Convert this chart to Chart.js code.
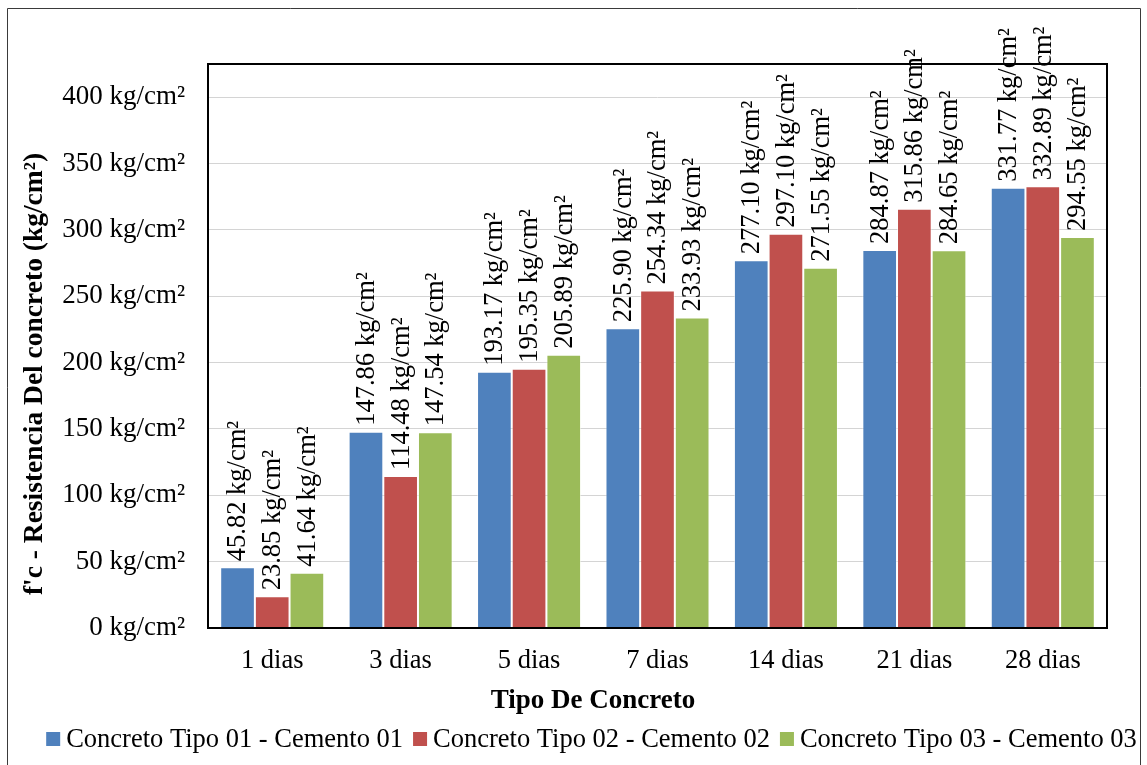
<!DOCTYPE html>
<html>
<head>
<meta charset="utf-8">
<title>Resistencia del concreto</title>
<script src="https://cdn.jsdelivr.net/npm/chart.js@4.4.1/dist/chart.umd.min.js"></script>
<style>
  html, body { margin: 0; padding: 0; background: #ffffff; }
  #wrap { position: relative; width: 1147px; height: 765px; }
  canvas { display: block; }
</style>
</head>
<body>
<div id="wrap"><canvas id="chart" width="1147" height="765"></canvas></div>
<script>
// Curing ages (categories)
const categories = ['1 dias', '3 dias', '5 dias', '7 dias', '14 dias', '21 dias', '28 dias'];

// Compressive strength f'c in kg/cm² for each concrete type
const tipo01 = [45.82, 147.86, 193.17, 225.90, 277.10, 284.87, 331.77];
const tipo02 = [23.85, 114.48, 195.35, 254.34, 297.10, 315.86, 332.89];
const tipo03 = [41.64, 147.54, 205.89, 233.93, 271.55, 284.65, 294.55];

const seriesNames = [
  'Concreto Tipo 01 - Cemento 01',
  'Concreto Tipo 02 - Cemento 02',
  'Concreto Tipo 03 - Cemento 03'
];
const seriesColors = ['#4F81BD', '#C0504D', '#9BBB59'];

// Y-axis settings
const yMin = 0;
const yMax = 425;
const yStep = 50;
const yLastLabel = 400;
const unit = 'kg/cm²';

const xTitle = 'Tipo De Concreto';
const yTitle = "f'c - Resistencia Del concreto (kg/cm²)";

const FONT = '"Liberation Serif", "Times New Roman", Times, serif';
const TEXT_SIZE = 26.5;

// Value labels written vertically above every bar
const barValueLabels = {
  id: 'barValueLabels',
  afterDatasetsDraw(chart) {
    const ctx = chart.ctx;
    ctx.save();
    ctx.font = TEXT_SIZE + 'px ' + FONT;
    ctx.fillStyle = '#000';
    ctx.textAlign = 'left';
    ctx.textBaseline = 'middle';
    chart.data.datasets.forEach((ds, di) => {
      const meta = chart.getDatasetMeta(di);
      meta.data.forEach((bar, i) => {
        const txt = ds.data[i].toFixed(2) + ' ' + unit;
        ctx.save();
        ctx.translate(bar.x, bar.y - 6);
        ctx.rotate(-Math.PI / 2);
        ctx.fillText(txt, 0, 1);
        ctx.restore();
      });
    });
    ctx.restore();
  }
};

// Frame around the plot, outer chart border, axis titles and legend row
const decorations = {
  id: 'decorations',
  beforeDraw(chart) {
    const ctx = chart.ctx;
    ctx.save();
    ctx.fillStyle = '#fff';
    ctx.fillRect(0, 0, chart.width, chart.height);
    ctx.strokeStyle = '#3a3a3a';
    ctx.lineWidth = 1;
    ctx.beginPath();
    ctx.moveTo(7.5, chart.height + 1);
    ctx.lineTo(7.5, 8.5);
    ctx.lineTo(1140.5, 8.5);
    ctx.lineTo(1140.5, chart.height + 1);
    ctx.stroke();
    ctx.restore();
  },
  afterDraw(chart) {
    const ctx = chart.ctx;
    const a = chart.chartArea;
    ctx.save();
    // plot frame
    ctx.strokeStyle = '#000';
    ctx.lineWidth = 2;
    ctx.strokeRect(a.left, a.top, a.right - a.left, a.bottom - a.top);

    // x-axis title
    ctx.fillStyle = '#000';
    ctx.font = 'bold 27px ' + FONT;
    ctx.textAlign = 'center';
    ctx.textBaseline = 'alphabetic';
    ctx.fillText(xTitle, 593, 708);

    // y-axis title
    ctx.save();
    ctx.translate(35, 374);
    ctx.rotate(-Math.PI / 2);
    ctx.textBaseline = 'middle';
    ctx.font = 'bold 27.5px ' + FONT;
    ctx.fillText(yTitle, 0, 0);
    ctx.restore();

    // legend
    ctx.font = TEXT_SIZE + 'px ' + FONT;
    ctx.textAlign = 'left';
    ctx.textBaseline = 'alphabetic';
    const box = 14, boxGap = 6, itemGap = 10;
    const widths = chart.data.datasets.map(d => ctx.measureText(d.label).width);
    const total = widths.reduce((s, w) => s + box + boxGap + w, 0) + itemGap * (widths.length - 1);
    let x = 591.5 - total / 2;
    chart.data.datasets.forEach((d, i) => {
      ctx.fillStyle = d.backgroundColor;
      ctx.fillRect(x, 732, box, box);
      ctx.fillStyle = '#000';
      ctx.fillText(d.label, x + box + boxGap, 747);
      x += box + boxGap + widths[i] + itemGap;
    });
    ctx.restore();
  }
};

const datasets = [tipo01, tipo02, tipo03].map((vals, k) => ({
  label: seriesNames[k],
  data: vals,
  backgroundColor: seriesColors[k],
  borderColor: 'rgba(255,255,255,0.55)',
  borderWidth: 1,
  categoryPercentage: 0.81,
  barPercentage: 1.0
}));

new Chart(document.getElementById('chart'), {
  type: 'bar',
  data: { labels: categories, datasets },
  options: {
    responsive: false,
    animation: false,
    devicePixelRatio: 1,
    layout: { padding: { top: 64, right: 40, bottom: 0, left: 0 } },
    plugins: {
      legend: { display: false },
      tooltip: { enabled: false }
    },
    scales: {
      x: {
        grid: { display: false, drawTicks: false },
        border: { display: false },
        ticks: {
          color: '#000',
          font: { family: FONT, size: TEXT_SIZE },
          padding: 17,
          maxRotation: 0
        },
        afterFit(scale) { scale.height = 765 - 628; }
      },
      y: {
        min: yMin,
        max: yMax,
        grid: { color: '#d4d4d4', lineWidth: 1, drawTicks: false },
        border: { display: false },
        ticks: {
          stepSize: yStep,
          color: '#000',
          font: { family: FONT, size: 27 },
          padding: 23,
          callback: v => v + ' ' + unit
        },
        afterBuildTicks(scale) {
          scale.ticks = scale.ticks.filter(t => t.value <= yLastLabel);
        },
        afterFit(scale) { scale.width = 208; }
      }
    }
  },
  plugins: [decorations, barValueLabels]
});
</script>
</body>
</html>
